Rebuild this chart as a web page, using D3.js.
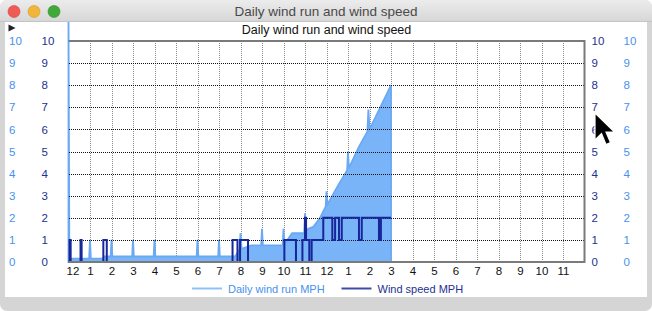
<!DOCTYPE html>
<meta charset="utf-8">
<style>
body { margin: 0; background: #fff; }
svg { display: block; font-family: "Liberation Sans", Arial, sans-serif; }
.hgrid line { stroke: #111; stroke-dasharray: 1,1; shape-rendering: crispEdges; }
.vgrid line { stroke: #8a8a8a; stroke-dasharray: 1,1; shape-rendering: crispEdges; }
.grid path { stroke-width: 0; }
.lbl path, .lbl line { display: none; }
</style>
<body>
<script src="https://d3js.org/d3.v7.min.js"></script>
<script>

// daily wind run (hour of day, mph)
var runHours = [0, 0.04, 0.96, 1.0, 1.04, 1.6, 1.65, 1.96, 2.0, 2.04, 2.96, 3.0, 3.04,
  3.96, 4.0, 4.04, 5.96, 6.0, 6.04, 6.96, 7.0, 7.04, 7.75, 7.95, 8.0, 8.05, 8.5,
  8.96, 9.0, 9.04, 9.96, 10.0, 10.04, 10.4, 10.96, 11.0, 11.04, 11.15, 11.4, 11.7,
  11.96, 12.0, 12.04, 12.5, 12.96, 13.0, 13.04, 13.5, 13.9, 13.95, 14.0, 14.5, 15.0];
var runValues = [11, 0.15, 0.15, 1.0, 0.15, 0.15, 0.25, 0.25, 1.0, 0.25, 0.25, 1.0, 0.25,
  0.25, 1.0, 0.25, 0.25, 1.0, 0.25, 0.25, 1.0, 0.25, 0.25, 0.55, 1.3, 0.6, 0.75,
  0.75, 1.5, 0.75, 0.75, 1.5, 0.8, 1.3, 1.3, 2.2, 1.4, 1.5, 1.6, 2.0,
  2.5, 3.2, 2.6, 3.4, 4.15, 5.0, 4.25, 5.2, 5.9, 6.9, 6.0, 7.0, 8.0];

// wind speed (hour of day, mph)
var speedHours = [0, 0.05, 0.1, 0.56, 0.61, 1.62, 1.78, 7.63, 7.86, 7.98, 8.35,
  10.04, 10.58, 10.88, 11.0, 11.05, 11.2, 11.31, 11.85, 12.27, 12.4, 12.58, 12.71,
  13.51, 13.64, 14.44, 14.53, 15.0];
var speedValues = [0, 1, 0, 1, 0, 1, 0, 1, 0, 1, 0,
  1, 0, 1, 2, 1, 0, 1, 2, 1, 2, 1, 2,
  1, 2, 1, 2, 2];

var hourLabels = ["12", "1", "2", "3", "4", "5", "6", "7", "8", "9", "10", "11",
  "12", "1", "2", "3", "4", "5", "6", "7", "8", "9", "10", "11"];
var yTicks = [0, 1, 2, 3, 4, 5, 6, 7, 8, 9, 10];

var W = 652, H = 311;
var plot = {left: 68.5, right: 584.5, top: 41, bottom: 262};
var runColor = "#78b4f7", runStroke = "#6aa9f4", speedColor = "#17279a";
var lightText = "#4791ee", darkText = "#24318f";

var x = d3.scaleLinear().domain([0, 24]).range([plot.left, plot.right]);
var y = d3.scaleLinear().domain([0, 10]).range([plot.bottom, plot.top]);

var svg = d3.select("body").append("svg").attr("width", W).attr("height", H);

// window frame
svg.append("rect").attr("x", 0).attr("y", 0).attr("width", W).attr("height", H)
  .attr("rx", 7).attr("fill", "#d5d5d5");
svg.append("rect").attr("x", 5).attr("y", 22).attr("width", 642).attr("height", 275)
  .attr("fill", "#fff");

// gridlines
svg.append("g").attr("class", "grid vgrid")
  .attr("transform", "translate(0," + plot.bottom + ")")
  .call(d3.axisBottom(x).tickValues(d3.range(1, 24)).tickSize(-(plot.bottom - plot.top)).tickFormat(""));

var run = runHours.map(function(h, i) { return [h, runValues[i]]; });
var speed = speedHours.map(function(h, i) { return [h, speedValues[i]]; });

svg.append("path").datum(run)
  .attr("fill", runColor).attr("stroke", runStroke).attr("stroke-width", 1.8)
  .attr("d", d3.area().x(function(d) { return x(d[0]); })
    .y0(y(0)).y1(function(d) { return y(d[1]); }));

svg.append("g").attr("class", "grid hgrid")
  .attr("transform", "translate(" + plot.left + ",0)")
  .call(d3.axisLeft(y).tickValues(d3.range(1, 10)).tickSize(-(plot.right - plot.left)).tickFormat(""));

svg.append("path").datum(speed)
  .attr("fill", "none").attr("stroke", speedColor).attr("stroke-width", 2)
  .attr("d", d3.line().curve(d3.curveStepAfter)
    .x(function(d) { return x(d[0]); }).y(function(d) { return y(d[1]); }));

// frame
svg.append("path")
  .attr("d", "M" + plot.left + "," + plot.top + "H" + plot.right + "V" + plot.bottom + "H" + plot.left)
  .attr("fill", "none").attr("stroke", "#7a7a7a").attr("stroke-width", 2);

// x labels
svg.append("g").attr("class", "lbl")
  .attr("transform", "translate(0," + (plot.bottom + 1) + ")")
  .call(d3.axisBottom(x).tickValues(d3.range(0, 24)).tickSize(0).tickPadding(4)
    .tickFormat(function(d) { return hourLabels[d]; }))
  .call(function(g) {
    g.selectAll("text").attr("fill", "#111").attr("font-size", 11.5).attr("font-family", null);
    g.selectAll(".tick").filter(function(d) { return d === 0; })
      .select("text").attr("dx", 4);
  });

// y labels
function yLabels(px, color) {
  svg.append("g").attr("class", "lbl")
    .attr("transform", "translate(" + px + ",0)")
    .call(d3.axisRight(y).tickValues(yTicks).tickSize(0).tickPadding(0))
    .call(function(g) {
      g.selectAll("text").attr("fill", color).attr("font-size", 11.5).attr("font-family", null);
    });
}
yLabels(9, lightText);
yLabels(41.5, darkText);
yLabels(591.5, darkText);
yLabels(623.5, lightText);

// chart title
svg.append("text").attr("x", 326.5).attr("y", 34).attr("text-anchor", "middle")
  .attr("font-size", 12.5).attr("fill", "#111").text("Daily wind run and wind speed");

// small triangle
svg.append("path").attr("d", "M8.5,24.5L15.5,28L8.5,31.5Z").attr("fill", "#222");

// legend
var legend = [
  {name: "Daily wind run MPH", stroke: "#8ec0f6", text: lightText, x: 192},
  {name: "Wind speed MPH", stroke: "#3e4ca2", text: darkText, x: 341.5}
];
var lg = svg.selectAll(".leg").data(legend).enter().append("g")
  .attr("transform", function(d) { return "translate(" + d.x + ",288.5)"; });
lg.append("line").attr("x1", 0).attr("x2", 30)
  .attr("stroke", function(d) { return d.stroke; }).attr("stroke-width", 2);
lg.append("text").attr("x", 36).attr("y", 4).attr("font-size", 11)
  .attr("fill", function(d) { return d.text; }).text(function(d) { return d.name; });

// title bar
var grad = svg.append("defs").append("linearGradient").attr("id", "tb")
  .attr("x1", 0).attr("y1", 0).attr("x2", 0).attr("y2", 1);
grad.append("stop").attr("offset", 0).attr("stop-color", "#ececec");
grad.append("stop").attr("offset", 1).attr("stop-color", "#d6d6d6");
svg.append("path").attr("d", "M0,22V7A7,7 0 0 1 7,0H645A7,7 0 0 1 652,7V22Z")
  .attr("fill", "url(#tb)");
svg.append("line").attr("x1", 0).attr("x2", W).attr("y1", 21.5).attr("y2", 21.5)
  .attr("stroke", "#c4c4c4");
svg.append("text").attr("x", 326).attr("y", 16).attr("text-anchor", "middle")
  .attr("font-size", 13.5).attr("fill", "#4a4a4a").text("Daily wind run and wind speed");
[[14, "#ee5c55", "#d5443d"], [34, "#f1b53a", "#d69a25"], [54, "#40a93a", "#2f8c2a"]].forEach(function(c) {
  svg.append("circle").attr("cx", c[0]).attr("cy", 11.5).attr("r", 6)
    .attr("fill", c[1]).attr("stroke", c[2]).attr("stroke-width", 0.6);
});

// mouse pointer
svg.append("path")
  .attr("d", "M595,113 L595,140 L601.5,133.5 L606,144.5 L610.5,142.5 L606,132 L614.5,132 Z")
  .attr("fill", "#000").attr("stroke", "#fff").attr("stroke-width", 1.2);

</script>
</body>
